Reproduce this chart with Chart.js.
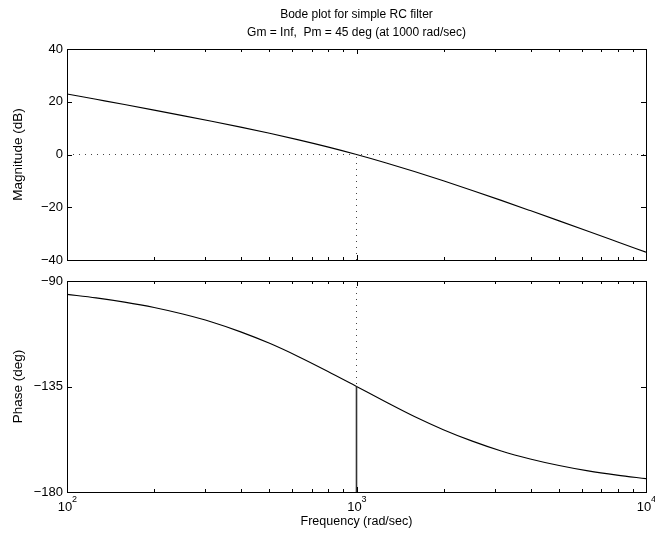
<!DOCTYPE html>
<html>
<head>
<meta charset="utf-8">
<script src="https://cdn.jsdelivr.net/npm/chart.js@4/dist/chart.umd.min.js"></script>
<style>
  body { margin: 0; background: #fff; }
  #wrap { position: relative; width: 655px; height: 533px; }
  #wrap canvas { position: absolute; left: 0; top: 0; }
</style>
</head>
<body>
<div id="wrap">
  <canvas id="magChart" width="655" height="533"></canvas>
  <canvas id="phaseChart" width="655" height="533"></canvas>
</div>
<script>
// values
const freq = [100, 126, 158, 200, 251, 316, 398, 501, 631, 794, 1000,
              1259, 1585, 1995, 2512, 3162, 3981, 5012, 6310, 7943, 10000];
const magDb = [22.97, 20.93, 18.93, 16.82, 14.75, 12.60, 10.37, 8.04, 5.55, 2.89, 0.00,
               -3.12, -6.45, -9.96, -13.63, -17.40, -21.26, -25.16, -29.10, -33.06, -37.03];
const phaseDeg = [-95.7, -97.2, -99.0, -101.3, -104.1, -107.5, -111.7, -116.6, -122.3, -128.5, -135.0,
                  -141.5, -147.8, -153.4, -158.3, -162.5, -165.9, -168.7, -171.0, -172.8, -174.3];

const magTicks = [40, 20, 0, -20, -40];
const phaseTicks = [-90, -135, -180];
const freqTicks = [100, 1000, 10000];
const freqExp = ['2', '3', '4'];
const freqMinor = [200, 300, 400, 500, 600, 700, 800, 900,
                   2000, 3000, 4000, 5000, 6000, 7000, 8000, 9000];

const crossFreq = 1000;   // gain crossover
const crossMag = 0;
const crossPhase = -135;

const FONT = '"Liberation Sans", Arial, Helvetica, sans-serif';

function toPoints(xs, ys) {
    return xs.map((x, i) => ({ x: x, y: ys[i] }));
}

// Function to draw the MATLAB style box, inward ticks and labels
const framePlugin = {
    id: 'frame',
    afterDraw(chart, args, opts) {
        const ctx = chart.ctx;
        const area = chart.chartArea;
        const xs = chart.scales.x;
        const ys = chart.scales.y;
        ctx.save();
        ctx.strokeStyle = '#000';
        ctx.lineWidth = 1;

        // box
        ctx.strokeRect(Math.round(area.left) + 0.5, Math.round(area.top) + 0.5,
                       Math.round(area.right - area.left), Math.round(area.bottom - area.top));

        // x ticks (top and bottom, inward)
        ctx.beginPath();
        freqTicks.forEach(v => {
            const px = Math.round(xs.getPixelForValue(v)) + 0.5;
            ctx.moveTo(px, area.top); ctx.lineTo(px, area.top + 5);
            ctx.moveTo(px, area.bottom); ctx.lineTo(px, area.bottom - 5);
        });
        freqMinor.forEach(v => {
            const px = Math.round(xs.getPixelForValue(v)) + 0.5;
            ctx.moveTo(px, area.top); ctx.lineTo(px, area.top + 3);
            ctx.moveTo(px, area.bottom); ctx.lineTo(px, area.bottom - 3);
        });
        // y ticks (left and right, inward)
        opts.yTicks.forEach(v => {
            const py = Math.round(ys.getPixelForValue(v)) + 0.5;
            ctx.moveTo(area.left, py); ctx.lineTo(area.left + 5, py);
            ctx.moveTo(area.right, py); ctx.lineTo(area.right - 5, py);
        });
        ctx.stroke();

        // y tick labels
        ctx.fillStyle = '#000';
        ctx.font = '13px ' + FONT;
        ctx.textAlign = 'right';
        ctx.textBaseline = 'middle';
        opts.yTicks.forEach(v => {
            const label = v < 0 ? '\u2212' + Math.abs(v) : String(v);
            ctx.fillText(label, area.left - 4, ys.getPixelForValue(v));
        });

        // y title
        ctx.font = '13.5px ' + FONT;
        ctx.textAlign = 'center';
        ctx.save();
        ctx.translate(18, (area.top + area.bottom) / 2);
        ctx.rotate(-Math.PI / 2);
        ctx.fillText(opts.yTitle, 0, 0);
        ctx.restore();

        // x tick labels and title
        if (opts.showX) {
            freqTicks.forEach((v, i) => {
                const px = xs.getPixelForValue(v);
                ctx.font = '13px ' + FONT;
                ctx.textAlign = 'center';
                ctx.fillText('10', px - 2, area.bottom + 15);
                ctx.font = '9px ' + FONT;
                ctx.textAlign = 'left';
                ctx.fillText(freqExp[i], px + 5, area.bottom + 8);
            });
            ctx.font = '12.5px ' + FONT;
            ctx.textAlign = 'center';
            ctx.fillText('Frequency (rad/sec)', (area.left + area.right) / 2, area.bottom + 30);
        }

        // title
        if (opts.title) {
            ctx.font = '12px ' + FONT;
            ctx.textAlign = 'center';
            opts.title.forEach((t, i) => {
                ctx.fillText(t, (area.left + area.right) / 2, 15 + i * 18);
            });
        }
        ctx.restore();
    }
};

function makeChart(id, datasets, yMin, yMax, pad, frameOpts) {
    return new Chart(document.getElementById(id), {
        type: 'line',
        data: { datasets },
        options: {
            responsive: false,
            animation: false,
            layout: { padding: pad },
            elements: { point: { radius: 0 } },
            plugins: {
                legend: { display: false },
                tooltip: { enabled: false },
                frame: frameOpts
            },
            scales: {
                x: { type: 'logarithmic', min: 100, max: 10000, display: false },
                y: { type: 'linear', min: yMin, max: yMax, display: false }
            }
        },
        plugins: [framePlugin]
    });
}

const dotted = { borderColor: '#444', borderWidth: 1, borderDash: [1, 5], fill: false, tension: 0 };

makeChart('magChart', [
    Object.assign({ data: [{ x: 100, y: crossMag }, { x: 10000, y: crossMag }] }, dotted),
    Object.assign({ data: [{ x: crossFreq, y: -40 }, { x: crossFreq, y: crossMag }] }, dotted),
    { data: toPoints(freq, magDb), borderColor: '#000', borderWidth: 1.1,
      cubicInterpolationMode: 'monotone', fill: false }
], -40, 40, { left: 67, right: 9, top: 49, bottom: 273 }, {
    yTicks: magTicks,
    yTitle: 'Magnitude (dB)',
    showX: false,
    title: ['Bode plot for simple RC filter', 'Gm = Inf,  Pm = 45 deg (at 1000 rad/sec)']
});

makeChart('phaseChart', [
    Object.assign({ data: [{ x: crossFreq, y: -90 }, { x: crossFreq, y: crossPhase }] }, dotted),
    { data: [{ x: crossFreq, y: crossPhase }, { x: crossFreq, y: -180 }],
      borderColor: '#333', borderWidth: 1.6, fill: false },
    { data: toPoints(freq, phaseDeg), borderColor: '#000', borderWidth: 1.1,
      cubicInterpolationMode: 'monotone', fill: false }
], -180, -90, { left: 67, right: 9, top: 281, bottom: 41 }, {
    yTicks: phaseTicks,
    yTitle: 'Phase (deg)',
    showX: true
});
</script>
</body>
</html>
